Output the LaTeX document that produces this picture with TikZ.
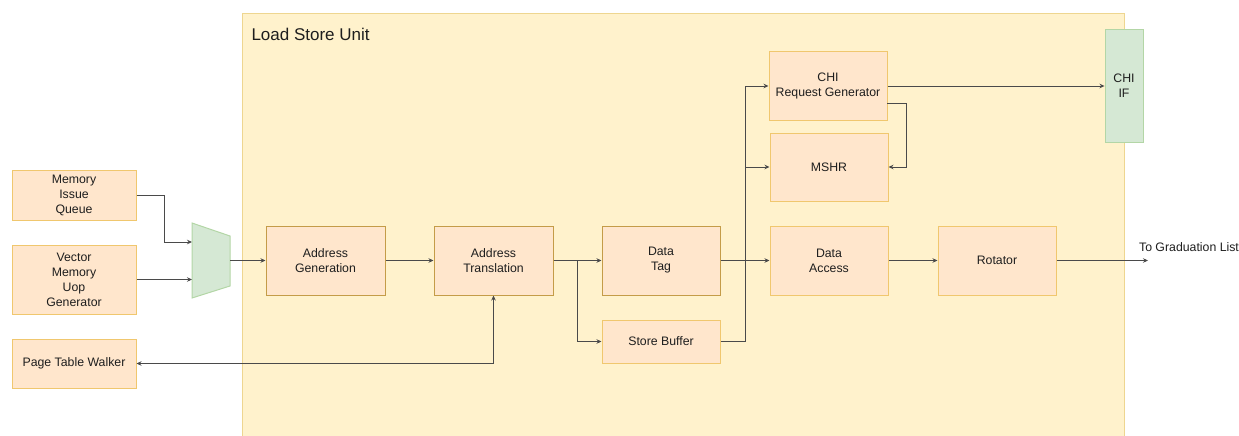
\documentclass[tikz,border=0pt]{standalone}
\usepackage{fontspec}
\setmainfont{Liberation Sans}
\usetikzlibrary{arrows.meta}

\definecolor{unitfill}{HTML}{FFF2CC}
\definecolor{unitline}{HTML}{EED690}
\definecolor{boxfill}{HTML}{FFE6CC}
\definecolor{boxline}{HTML}{F0C76E}
\definecolor{boxdark}{HTML}{C49C48}
\definecolor{ifill}{HTML}{D5E8D4}
\definecolor{iline}{HTML}{B3D6A6}
\definecolor{wire}{HTML}{4A4A4A}
\definecolor{ink}{HTML}{1E1E1E}

\tikzset{
  blk/.style={draw=boxline, fill=boxfill, line width=1pt, align=center,
    inner sep=0pt, minimum width=118pt, minimum height=69pt,
    font=\fontsize{12.3}{15}\selectfont, text=ink},
  blkdark/.style={blk, draw=boxdark},
  ifbox/.style={draw=iline, fill=ifill, line width=1pt, align=center,
    inner sep=0pt, font=\fontsize{12.3}{15}\selectfont, text=ink},
  wire/.style={draw=wire, line width=0.9pt, -{Stealth[length=5pt,width=4.5pt]}},
  wireplain/.style={draw=wire, line width=0.9pt},
}

\begin{document}
\begin{tikzpicture}[x=1pt,y=-1pt]
\useasboundingbox (0,0) rectangle (1239,436);

% Load Store Unit container (open at the bottom edge)
\fill[unitfill] (242,14) rectangle (1124,440);
\draw[unitline, line width=1pt] (242,440) -- (242,14) -- (1124,14) -- (1124,440);
\node[anchor=west, font=\fontsize{17}{20}\selectfont, text=ink] (lsu) at (248,34.5) {Load Store Unit};

% external blocks
\node[blk, minimum width=124pt, minimum height=50pt] (miq) at (74,195) {Memory\\Issue\\Queue};
\node[blk, minimum width=124pt, minimum height=69pt] (vmug) at (74,279.5) {Vector\\Memory\\Uop\\Generator};
\node[blk, minimum width=124pt, minimum height=49pt] (ptw) at (74,363.5) {Page Table Walker};

% input multiplexer
\filldraw[fill=ifill, draw=iline, line width=1pt] (192,223) -- (230,236) -- (230,286) -- (192,298) -- cycle;
\coordinate (muxin1) at (192,242);
\coordinate (muxin2) at (192,279.5);
\coordinate (muxout) at (230,260.5);

% pipeline blocks
\node[blkdark, minimum width=119pt] (ag) at (325.5,260.5) {Address\\Generation};
\node[blkdark, minimum width=119pt] (at) at (493.5,260.5) {Address\\Translation};
\node[blkdark] (dt) at (661,260.5) {Data\\Tag};
\node[blk] (da) at (829,260.5) {Data\\Access};
\node[blk] (rot) at (997,260.5) {Rotator};
\node[blk, minimum height=43pt] (sb) at (661,341.5) {Store Buffer};
\node[blk, minimum height=68pt] (chi) at (828,86) {CHI\\Request Generator};
\node[blk, minimum height=68pt] (mshr) at (829,167) {MSHR};
\node[ifbox, minimum width=38pt, minimum height=112pt] (chiif) at (1124,86) {CHI\\IF};

% junctions and free ends
\coordinate (join) at (745,260.5);
\coordinate (chiout) at (887,103);
\coordinate (grad) at (1148,260.5);
\node[anchor=south, font=\fontsize{12.3}{15}\selectfont, text=ink] (gradlbl) at (1189,255) {To Graduation List};

% connectors
\draw[wire] (miq.east) -- ++(28,0) |- (muxin1);
\draw[wire] (vmug.east) -- (muxin2);
\draw[wire] (muxout) -- (ag.west);
\draw[wire] (ag.east) -- (at.west);
\draw[wire] (at.east) -- (dt.west);
\draw[wire] (at.east) -- ++(24,0) |- (sb.west);
\draw[wire] (dt.east) -- (da.west);
\draw[wireplain] (sb.east) -| (join);
\draw[wire] (join) |- (chi.west);
\draw[wire] (join) |- (mshr.west);
\draw[wire] (chi.east) -- (chiif.west);
\draw[wire] (chiout) -- ++(19,0) |- (mshr.east);
\draw[wire] (da.east) -- (rot.west);
\draw[wire] (rot.east) -- (grad);
\draw[wire, {Stealth[length=5pt,width=4.5pt]}-{Stealth[length=5pt,width=4.5pt]}] (at.south) |- (ptw.east);
\end{tikzpicture}
\end{document}
